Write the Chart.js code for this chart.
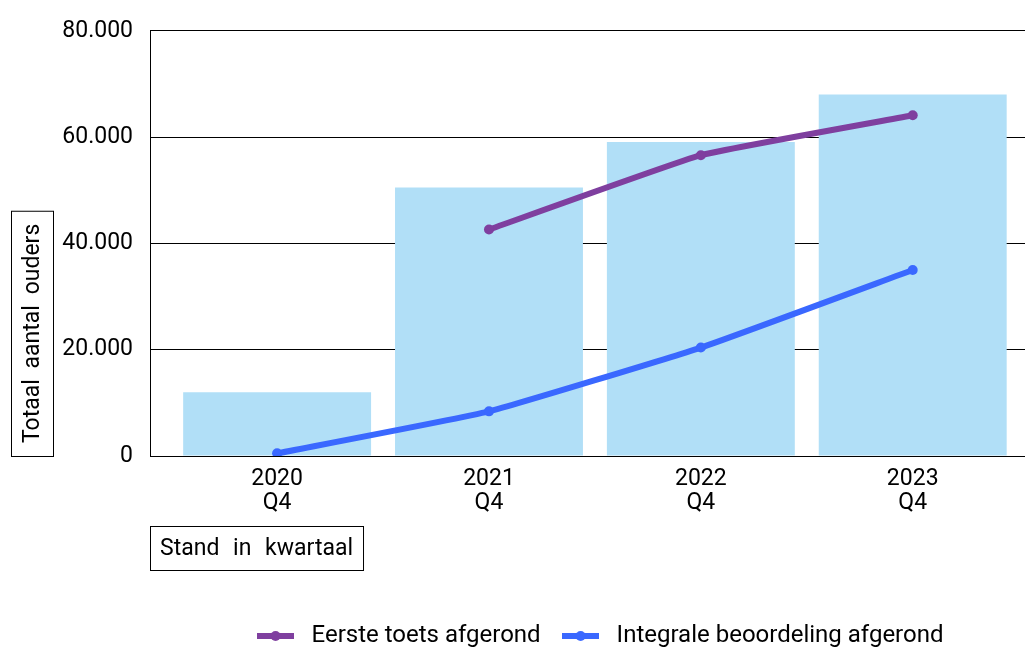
<!DOCTYPE html>
<html>
<head>
<meta charset="utf-8">
<script src="https://cdn.jsdelivr.net/npm/chart.js@4.4.1/dist/chart.umd.min.js"></script>
<style>
  html, body { margin: 0; padding: 0; background: #fff; }
  #wrap { width: 1025px; height: 648px; }
</style>
</head>
<body>
<div id="wrap"><canvas id="chart"></canvas></div>
<script>
var quarters = [['2020', 'Q4'], ['2021', 'Q4'], ['2022', 'Q4'], ['2023', 'Q4']];
var totaal = [12000, 50500, 59100, 68000];
var eersteToets = [null, 42600, 56600, 64100];
var integrale = [500, 8400, 20400, 35000];
var yTicks = [0, 20000, 40000, 60000, 80000];

var yTitle = 'Totaal aantal ouders';
var xTitle = 'Stand in kwartaal';

Chart.defaults.font.family = 'Roboto';
Chart.defaults.font.size = 23;
Chart.defaults.color = '#000';

function points(values) {
  var out = [];
  for (var i = 0; i < values.length; i++) {
    if (values[i] !== null) out.push({x: i, y: values[i]});
  }
  return out;
}

function dotted(x) {
  return String(x).replace(/\B(?=(\d{3})+(?!\d))/g, '.');
}

// little line-with-dot image for the legend
function legendMark(color) {
  var c = document.createElement('canvas');
  c.width = 37; c.height = 12;
  var g = c.getContext('2d');
  g.fillStyle = color;
  g.fillRect(0, 3, 37, 6);
  g.beginPath();
  g.arc(18.5, 6, 5, 0, Math.PI * 2);
  g.fill();
  return c;
}

var boxedTitles = {
  id: 'boxedTitles',
  afterLayout: function (chart) {
    // legend sits a bit right of the plot centre in the original
    var area = chart.chartArea;
    chart.legend.left = area.left + 10;
    chart.legend.right = area.right + 10;
  },
  afterDraw: function (chart) {
    var ctx = chart.ctx, area = chart.chartArea;
    ctx.save();
    ctx.font = '23px Roboto';
    ctx.fillStyle = '#000';
    ctx.strokeStyle = '#000';
    ctx.lineWidth = 1;
    ctx.textBaseline = 'middle';

    ctx.wordSpacing = '5px';
    var h = ctx.measureText(yTitle).width + 26;
    ctx.strokeRect(11.5, area.bottom - h + 0.5, 42, h);
    ctx.save();
    ctx.translate(33, area.bottom - 13);
    ctx.rotate(-Math.PI / 2);
    ctx.textAlign = 'left';
    ctx.fillText(yTitle, 0, 0);
    ctx.restore();

    ctx.wordSpacing = '8px';
    var w = ctx.measureText(xTitle).width + 20;
    ctx.strokeRect(area.left + 0.5, 526.5, w, 44);
    ctx.textAlign = 'left';
    ctx.fillText(xTitle, area.left + 10, 549);
    ctx.restore();
  }
};

new Chart(document.getElementById('chart'), {
  data: {
    datasets: [{
      type: 'line',
      label: 'Eerste toets afgerond',
      data: points(eersteToets),
      borderColor: '#7f3f9f',
      backgroundColor: '#7f3f9f',
      borderWidth: 6,
      pointRadius: 5,
      pointBorderWidth: 0,
      tension: 0.1,
      order: 1
    }, {
      type: 'line',
      label: 'Integrale beoordeling afgerond',
      data: points(integrale),
      borderColor: '#3a68ff',
      backgroundColor: '#3a68ff',
      borderWidth: 6,
      pointRadius: 5,
      pointBorderWidth: 0,
      tension: 0.12,
      order: 0
    }, {
      type: 'bar',
      label: 'Totaal',
      data: points(totaal),
      backgroundColor: '#b1dff7',
      categoryPercentage: 1,
      barPercentage: 0.887,
      order: 5
    }]
  },
  options: {
    responsive: true,
    maintainAspectRatio: false,
    animation: false,
    layout: { autoPadding: false, padding: { top: 28, left: 0, right: 0, bottom: -10 } },
    plugins: {
      tooltip: { enabled: false },
      legend: {
        position: 'bottom',
        fullSize: false,
        labels: {
          usePointStyle: true,
          pointStyleWidth: 48,
          padding: 16,
          color: '#000',
          font: { size: 24 },
          generateLabels: function (chart) {
            var items = [];
            chart.data.datasets.forEach(function (ds, i) {
              if (ds.type !== 'line') return;
              items.push({
                text: ds.label,
                pointStyle: legendMark(ds.borderColor),
                fillStyle: ds.borderColor,
                strokeStyle: ds.borderColor,
                lineWidth: 0,
                hidden: false,
                datasetIndex: i
              });
            });
            return items;
          }
        }
      }
    },
    scales: {
      x: {
        type: 'linear',
        min: -0.6,
        max: 3.53,
        offset: false,
        bounds: 'data',
        afterBuildTicks: function (scale) {
          scale.ticks = quarters.map(function (q, i) { return {value: i}; });
        },
        afterFit: function (scale) { scale.height = 152; },
        ticks: {
          autoSkip: false,
          maxRotation: 0,
          padding: 11,
          font: { size: 23, lineHeight: 1.05 },
          callback: function (v) { return quarters[v]; }
        },
        grid: { display: false, drawTicks: false },
        border: { color: '#000', width: 1 }
      },
      y: {
        min: 0,
        max: 80000,
        afterBuildTicks: function (scale) {
          scale.ticks = yTicks.map(function (v) { return {value: v}; });
        },
        afterFit: function (scale) { scale.width = 150; },
        ticks: {
          padding: 17,
          font: { size: 23 },
          callback: function (v) { return dotted(v); }
        },
        grid: { color: '#000', lineWidth: 1, drawTicks: false },
        border: { color: '#000', width: 1 }
      }
    }
  },
  plugins: [boxedTitles]
});
</script>
</body>
</html>
